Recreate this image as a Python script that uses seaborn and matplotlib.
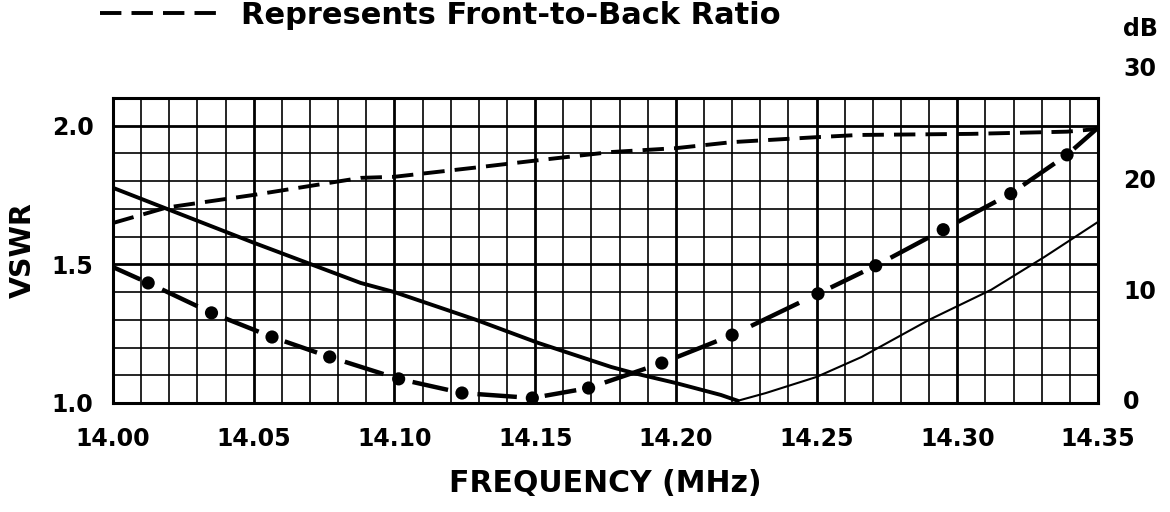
import numpy as np
import pandas as pd
import matplotlib
matplotlib.use('Agg')
import matplotlib.pyplot as plt
import seaborn as sb

# datos
# VSWR (linea continua)
vswr_freq = [14.000, 14.050, 14.088, 14.100, 14.129, 14.151, 14.177, 14.185, 14.200,
             14.216, 14.222, 14.232, 14.250, 14.266, 14.290, 14.312, 14.331, 14.350]
vswr_val = [1.776, 1.578, 1.433, 1.400, 1.300, 1.217, 1.130, 1.108, 1.072,
            1.029, 1.008, 1.036, 1.094, 1.166, 1.300, 1.408, 1.527, 1.653]
vswr_min_freq = 14.222

# curva de puntos (VSWR)
dot_freq = [14.000, 14.0125, 14.035, 14.0565, 14.077, 14.1015, 14.124, 14.149, 14.169,
            14.195, 14.220, 14.2505, 14.271, 14.295, 14.319, 14.339, 14.350]
dot_val = [1.490, 1.433, 1.325, 1.238, 1.166, 1.087, 1.036, 1.018, 1.054,
           1.144, 1.245, 1.394, 1.495, 1.625, 1.755, 1.895, 1.993]

# relacion frente-espalda (dB, eje derecho)
fb_freq = [14.000, 14.019, 14.050, 14.088, 14.100, 14.131, 14.151, 14.177, 14.200,
           14.220, 14.250, 14.265, 14.305, 14.339, 14.350]
fb_db = [16.0, 17.4, 18.55, 20.1, 20.2, 21.1, 21.7, 22.45, 22.8,
         23.35, 23.8, 24.0, 24.1, 24.3, 24.55]

x_ticks = [14.00, 14.05, 14.10, 14.15, 14.20, 14.25, 14.30, 14.35]
x_labels = ['14.00', '14.05', '14.10', '14.15', '14.20', '14.25', '14.30', '14.35']
y_ticks = [1.0, 1.5, 2.0]
db_ticks = [0, 10, 20]

sb.set_style('white')
plt.rcParams['font.family'] = ['DejaVu Sans']
plt.rcParams['font.weight'] = 'bold'
plt.rcParams['text.color'] = 'black'
plt.rcParams['axes.labelcolor'] = 'black'
plt.rcParams['xtick.color'] = 'black'
plt.rcParams['ytick.color'] = 'black'

fig = plt.figure(figsize=(11.7, 5.12), dpi=100)
ax = fig.add_axes([113 / 1170, 1 - 403 / 512, 985 / 1170, 305 / 512])

# cuadricula
ax.set_xlim(14.00, 14.35)
ax.set_ylim(1.0, 2.1)
ax.set_xticks(np.arange(14.00, 14.3501, 0.01), minor=True)
ax.set_yticks(np.arange(1.0, 2.101, 0.1), minor=True)
ax.set_xticks(x_ticks)
ax.set_xticklabels(x_labels)
ax.set_yticks(y_ticks)
ax.set_yticklabels(['1.0', '1.5', '2.0'])
ax.grid(which='minor', color='black', linewidth=1.2)
ax.grid(which='major', color='black', linewidth=2.0)
for s in ax.spines.values():
    s.set_color('black')
    s.set_linewidth(2.2)
ax.tick_params(axis='both', which='both', length=0)
ax.tick_params(axis='x', labelsize=17, pad=17)
ax.tick_params(axis='y', labelsize=17, pad=14)

# VSWR continua: gruesa hasta el minimo, fina despues
vswr = pd.DataFrame({'f': vswr_freq, 'v': vswr_val})
izq = vswr[vswr['f'] <= vswr_min_freq]
der = vswr[vswr['f'] >= vswr_min_freq]
sb.lineplot(data=izq, x='f', y='v', ax=ax, color='black', linewidth=2.8, sort=False)
sb.lineplot(data=der, x='f', y='v', ax=ax, color='black', linewidth=1.5, sort=False)

# curva de rayas y puntos
n = len(dot_freq)
for i in range(n - 1):
    t0 = 0.0 if i == 0 else 0.22
    t1 = 1.0 if i == n - 2 else 0.78
    f0, f1 = dot_freq[i], dot_freq[i + 1]
    v0, v1 = dot_val[i], dot_val[i + 1]
    ax.plot([f0 + t0 * (f1 - f0), f0 + t1 * (f1 - f0)],
            [v0 + t0 * (v1 - v0), v0 + t1 * (v1 - v0)],
            color='black', linewidth=3.2, solid_capstyle='butt', zorder=3)
sb.scatterplot(x=dot_freq[1:-1], y=dot_val[1:-1], ax=ax, color='black',
               s=90, edgecolor='none', zorder=4)

ax.set_xlabel('FREQUENCY (MHz)', fontsize=21.5, fontweight='bold', labelpad=13)
ax.set_ylabel('VSWR', fontsize=20.5, fontweight='bold', labelpad=11)

# eje derecho en dB
ax2 = ax.twinx()
ax2.set_ylim(-0.36, 27.36)
ax2.plot(fb_freq, fb_db, color='black', linewidth=2.8, dashes=(5.5, 2.6),
         label='Represents Front-to-Back Ratio')
ax2.set_yticks(db_ticks)
ax2.set_yticklabels(['0', '10', '20'])
ax2.tick_params(axis='y', length=0, labelsize=17, pad=18)
ax2.grid(False)
for s in ax2.spines.values():
    s.set_visible(False)
tr = ax2.get_yaxis_transform()
x_txt = 1.0 + 25 / 985
ax2.text(x_txt, 30, '30', transform=tr, fontsize=17, fontweight='bold',
         ha='left', va='center', clip_on=False)
ax2.text(x_txt, 33.6, 'dB', transform=tr, fontsize=17, fontweight='bold',
         ha='left', va='center', clip_on=False)

fig.legend(loc='upper left', bbox_to_anchor=(100 / 1170, 0.998), frameon=False,
           handlelength=3.8, handletextpad=0.8,
           borderaxespad=0, borderpad=0, prop={'weight': 'bold', 'size': 22})

plt.savefig('out.png', dpi=100)
